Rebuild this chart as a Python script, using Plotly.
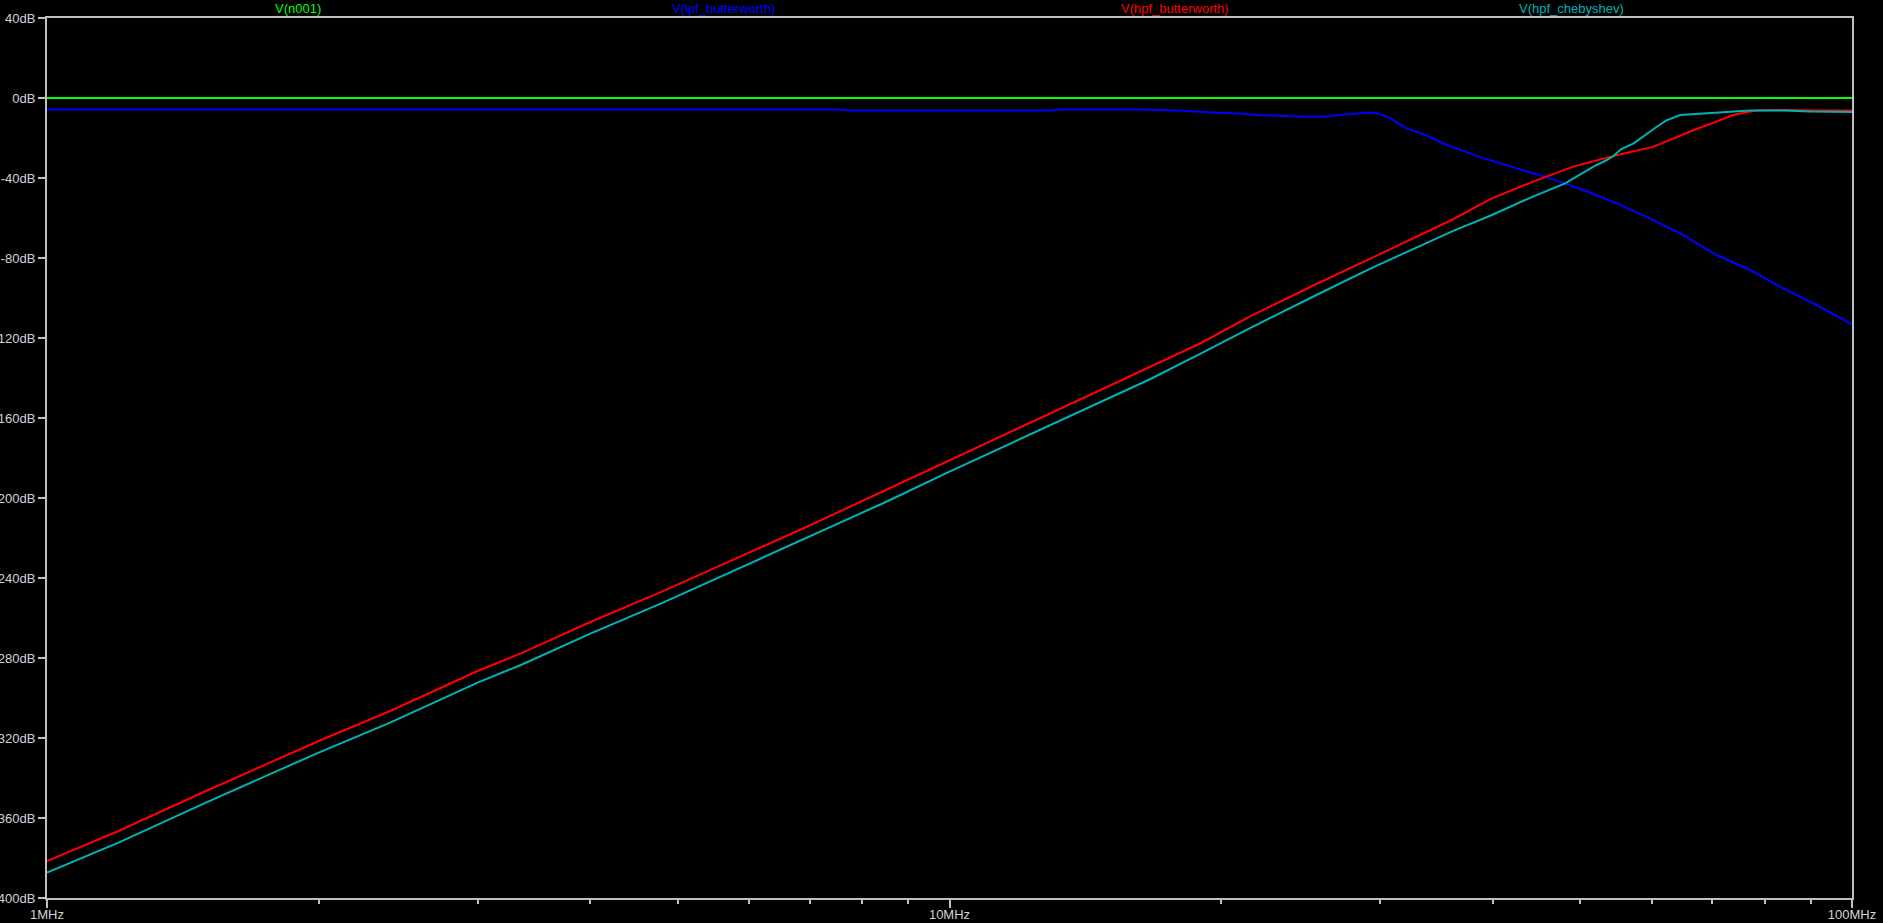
import plotly.graph_objects as go

# ---- data (frequency in MHz, magnitude in dB) ----
freq_n001 = [1.0, 100.0]
db_n001 = [0.0, 0.0]

freq_lpf_butter = [1.0, 3.0, 7.6, 7.7, 13.0, 13.2, 16.3, 17.9, 19.2, 20.1, 20.9, 22.1, 24.5,
                   26.0, 27.5, 29.2, 30.0, 30.8, 32.1, 33.7, 35.2, 38.3, 42.0, 46.3, 50.4,
                   54.9, 59.7, 65.0, 70.8, 77.1, 83.9, 91.4, 100.0]
db_lpf_butter = [-5.8, -5.8, -5.8, -6.2, -6.2, -5.8, -5.8, -6.3, -6.8, -7.5, -7.8, -8.6, -9.2,
                 -9.2, -8.3, -7.2, -8.0, -10.2, -15.2, -18.5, -22.7, -28.8, -34.5, -40.2, -46.0,
                 -52.7, -60.2, -68.5, -78.5, -86.0, -95.2, -103.5, -113.2]

freq_hpf_butter = [1.0, 1.2, 1.5, 2.0, 2.4, 3.0, 3.35, 4.0, 4.8, 6.0, 6.9, 8.5, 10.0, 12.0,
                   14.7, 16.7, 19.0, 21.5, 25.5, 29.3, 32.5, 36.0, 39.9, 44.3, 49.1, 54.4,
                   60.3, 66.8, 70.8, 73.8, 78.3, 84.0, 91.4, 100.0]
db_hpf_butter = [-381.5, -366.5, -346.5, -321.5, -306.5, -286.5, -277.7, -262.0, -246.8, -227.0,
                 -215.0, -196.0, -181.0, -164.5, -146.0, -134.5, -122.5, -109.3, -93.0, -80.2,
                 -70.5, -61.0, -50.2, -41.8, -34.3, -29.0, -24.3, -16.0, -11.8, -8.5, -6.3,
                 -6.0, -6.3, -6.3]

freq_hpf_cheby = [1.0, 1.2, 1.5, 2.0, 2.4, 3.0, 3.35, 4.0, 4.8, 6.0, 6.9, 8.5, 10.0, 12.0,
                  14.7, 16.7, 19.0, 21.5, 25.5, 29.3, 32.5, 36.0, 39.9, 44.3, 48.1, 50.4,
                  51.7, 53.5, 54.4, 55.5, 57.3, 60.5, 62.2, 64.5, 70.8, 77.1, 84.0, 89.8, 100.0]
db_hpf_cheby = [-387.3, -372.3, -352.3, -327.3, -312.3, -292.3, -283.5, -267.8, -252.6, -232.8,
                -220.8, -202.0, -186.8, -170.3, -151.8, -140.5, -127.7, -115.2, -98.5, -85.2,
                -75.9, -66.8, -58.5, -49.3, -42.7, -37.5, -34.3, -31.0, -29.0, -25.5, -22.7,
                -15.0, -11.3, -8.5, -7.3, -6.3, -6.2, -6.8, -7.0]

trace_names = ["V(n001)", "V(lpf_butterworth)", "V(hpf_butterworth)", "V(hpf_chebyshev)"]
trace_colors = ["#00ff00", "#0000ff", "#ff0000", "#00b4b4"]

x_tickvals = [1, 10, 100]
x_ticktext = ["1MHz", "10MHz", "100MHz"]
x_minor_vals = [2, 3, 4, 5, 6, 7, 8, 9, 20, 30, 40, 50, 60, 70, 80, 90]
y_tickvals = list(range(-400, 41, 40))
y_ticktext = [f"{v}dB" for v in y_tickvals]

series = [(freq_n001, db_n001), (freq_lpf_butter, db_lpf_butter),
          (freq_hpf_butter, db_hpf_butter), (freq_hpf_cheby, db_hpf_cheby)]

fig = go.Figure()
for (fx, fy), name, col in zip(series, trace_names, trace_colors):
    fig.add_trace(go.Scatter(x=fx, y=fy, mode="lines", name=name,
                             line=dict(color=col, width=2)))

axis_col = "#c0c0c0"
fig.update_layout(
    width=1883, height=923,
    margin=dict(l=47, r=31, t=18, b=25, autoexpand=False),
    paper_bgcolor="black", plot_bgcolor="black",
    showlegend=False,
    font=dict(family="Liberation Sans, Arial, sans-serif", size=13, color="#d0d4dc"),
    xaxis=dict(type="log", range=[0, 2], showgrid=False, zeroline=False, automargin=False,
               showline=True, linecolor=axis_col, linewidth=2, mirror=True,
               ticks="outside", ticklen=8, tickwidth=2, tickcolor=axis_col,
               ticklabelstandoff=-5,
               tickvals=x_tickvals, ticktext=x_ticktext,
               minor=dict(tickvals=x_minor_vals, ticks="outside", ticklen=4,
                          tickwidth=2, tickcolor=axis_col, showgrid=False)),
    yaxis=dict(range=[-400, 40], showgrid=False, zeroline=False, automargin=False,
               showline=True, linecolor=axis_col, linewidth=2, mirror=True,
               ticks="outside", ticklen=7, tickwidth=2, tickcolor=axis_col,
               tickvals=y_tickvals, ticktext=y_ticktext),
)

for i, (name, col) in enumerate(zip(trace_names, trace_colors)):
    fig.add_annotation(text=name, xref="paper", yref="paper",
                       x=0.125 + 0.25 * i, y=1, yanchor="bottom", yshift=0,
                       showarrow=False,
                       font=dict(color=col, size=13,
                                 family="Liberation Sans, Arial, sans-serif"))

fig.write_html("out.html", config={"displayModeBar": False},
               post_script="document.body.style.margin='0';document.body.style.overflow='hidden';")
